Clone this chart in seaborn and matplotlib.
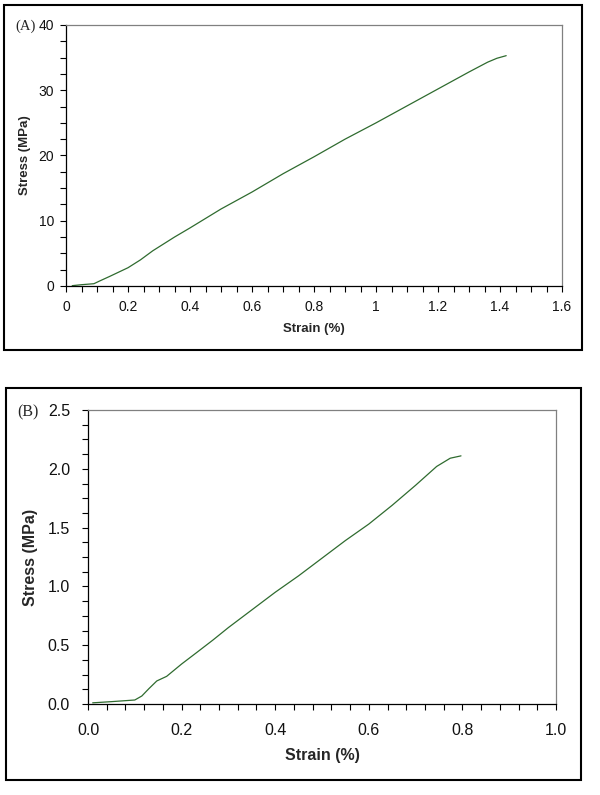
import numpy as np
import pandas as pd
import matplotlib
matplotlib.use("Agg")
import matplotlib.pyplot as plt
from matplotlib.patches import Rectangle
from matplotlib.ticker import MultipleLocator, FuncFormatter, FormatStrFormatter
import seaborn as sns

# ---- data ----
strain_a = [0.02, 0.05, 0.09, 0.11, 0.14, 0.20, 0.24, 0.28, 0.35, 0.40, 0.50, 0.60,
            0.70, 0.80, 0.90, 1.00, 1.10, 1.20, 1.30, 1.36, 1.39, 1.42]
stress_a = [0.05, 0.2, 0.35, 0.8, 1.45, 2.8, 4.0, 5.4, 7.5, 8.9, 11.8, 14.4,
            17.2, 19.8, 22.5, 25.0, 27.6, 30.2, 32.8, 34.3, 34.9, 35.3]

strain_b = [0.01, 0.05, 0.10, 0.115, 0.13, 0.147, 0.168, 0.20, 0.233, 0.267, 0.30,
            0.35, 0.40, 0.45, 0.50, 0.55, 0.60, 0.65, 0.70, 0.745, 0.774, 0.797]
stress_b = [0.01, 0.02, 0.034, 0.068, 0.13, 0.196, 0.235, 0.34, 0.44, 0.544, 0.65,
            0.80, 0.95, 1.09, 1.24, 1.39, 1.53, 1.69, 1.86, 2.02, 2.09, 2.11]

panel_labels = ["(A)", "(B)"]
x_label = "Strain (%)"
y_label = "Stress (MPa)"

sns.set_theme(style="white")
plt.rcParams["font.family"] = ["Liberation Sans", "DejaVu Sans"]

fig = plt.figure(figsize=(6.0, 7.95), dpi=100)
fig.patch.set_facecolor("white")

# outer boxes
for (l, b, w, h) in [(4/600, 1-350/795, 578/600, 345/795),
                     (6/600, 1-780/795, 575/600, 392/795)]:
    fig.add_artist(Rectangle((l, b), w, h, transform=fig.transFigure,
                             fill=False, edgecolor="black", linewidth=1.5))

line_color = "#2f6b2f"

def style_axes(ax, fs_tick, xpad, ypad):
    for s in ["left", "bottom"]:
        ax.spines[s].set_color("black")
        ax.spines[s].set_linewidth(0.9)
    for s in ["top", "right"]:
        ax.spines[s].set_color("#808080")
        ax.spines[s].set_linewidth(0.9)
    ax.tick_params(axis="both", which="both", direction="out", length=4,
                   width=0.8, color="black", bottom=True, left=True,
                   top=False, right=False)
    ax.tick_params(axis="x", which="major", labelsize=fs_tick, pad=xpad,
                   labelcolor="#111111")
    ax.tick_params(axis="y", which="major", labelsize=fs_tick, pad=ypad,
                   labelcolor="#111111")
    ax.set_facecolor("white")
    ax.grid(False)

# ---- Panel A ----
axA = fig.add_axes([66/600, 1-286/795, 496/600, 261/795])
dfA = pd.DataFrame({"strain": strain_a, "stress": stress_a})
sns.lineplot(data=dfA, x="strain", y="stress", ax=axA, color=line_color,
             linewidth=0.9, sort=False, estimator=None)
axA.set_xlim(0, 1.6)
axA.set_ylim(0, 40)
axA.xaxis.set_major_locator(MultipleLocator(0.2))
axA.xaxis.set_minor_locator(MultipleLocator(0.05))
axA.yaxis.set_major_locator(MultipleLocator(10))
axA.yaxis.set_minor_locator(MultipleLocator(2.5))
axA.xaxis.set_major_formatter(FuncFormatter(lambda v, p: f"{v:g}"))
axA.yaxis.set_major_formatter(FuncFormatter(lambda v, p: f"{v:g}"))
style_axes(axA, 10, 6, 4.5)
axA.set_xlabel(x_label, fontsize=9.5, fontweight="bold")
axA.set_ylabel(y_label, fontsize=9.5, fontweight="bold")
axA.yaxis.set_label_coords((31-66)/496, 0.5)
axA.xaxis.set_label_coords(0.5, -(323-286)/261)
fig.text(15/600, 1-26/795, panel_labels[0], family=["Liberation Serif"],
         fontsize=10.5, ha="left", va="center")

# ---- Panel B ----
axB = fig.add_axes([88/600, 1-704/795, 468/600, 294/795])
dfB = pd.DataFrame({"strain": strain_b, "stress": stress_b})
sns.lineplot(data=dfB, x="strain", y="stress", ax=axB, color=line_color,
             linewidth=0.9, sort=False, estimator=None)
axB.set_xlim(0, 1.0)
axB.set_ylim(0, 2.5)
axB.xaxis.set_major_locator(MultipleLocator(0.2))
axB.xaxis.set_minor_locator(MultipleLocator(0.04))
axB.yaxis.set_major_locator(MultipleLocator(0.5))
axB.yaxis.set_minor_locator(MultipleLocator(0.125))
axB.xaxis.set_major_formatter(FormatStrFormatter("%.1f"))
axB.yaxis.set_major_formatter(FormatStrFormatter("%.1f"))
style_axes(axB, 11.5, 10, 9)
axB.set_xlabel(x_label, fontsize=11.5, fontweight="bold")
axB.set_ylabel(y_label, fontsize=11.5, fontweight="bold")
axB.yaxis.set_label_coords((38-88)/468, 0.5)
axB.xaxis.set_label_coords(0.5, -(748-704)/294)
fig.text(17/600, 1-412/795, panel_labels[1], family=["Liberation Serif"],
         fontsize=11.5, ha="left", va="center")

fig.savefig("out.png", dpi=100, facecolor="white")
